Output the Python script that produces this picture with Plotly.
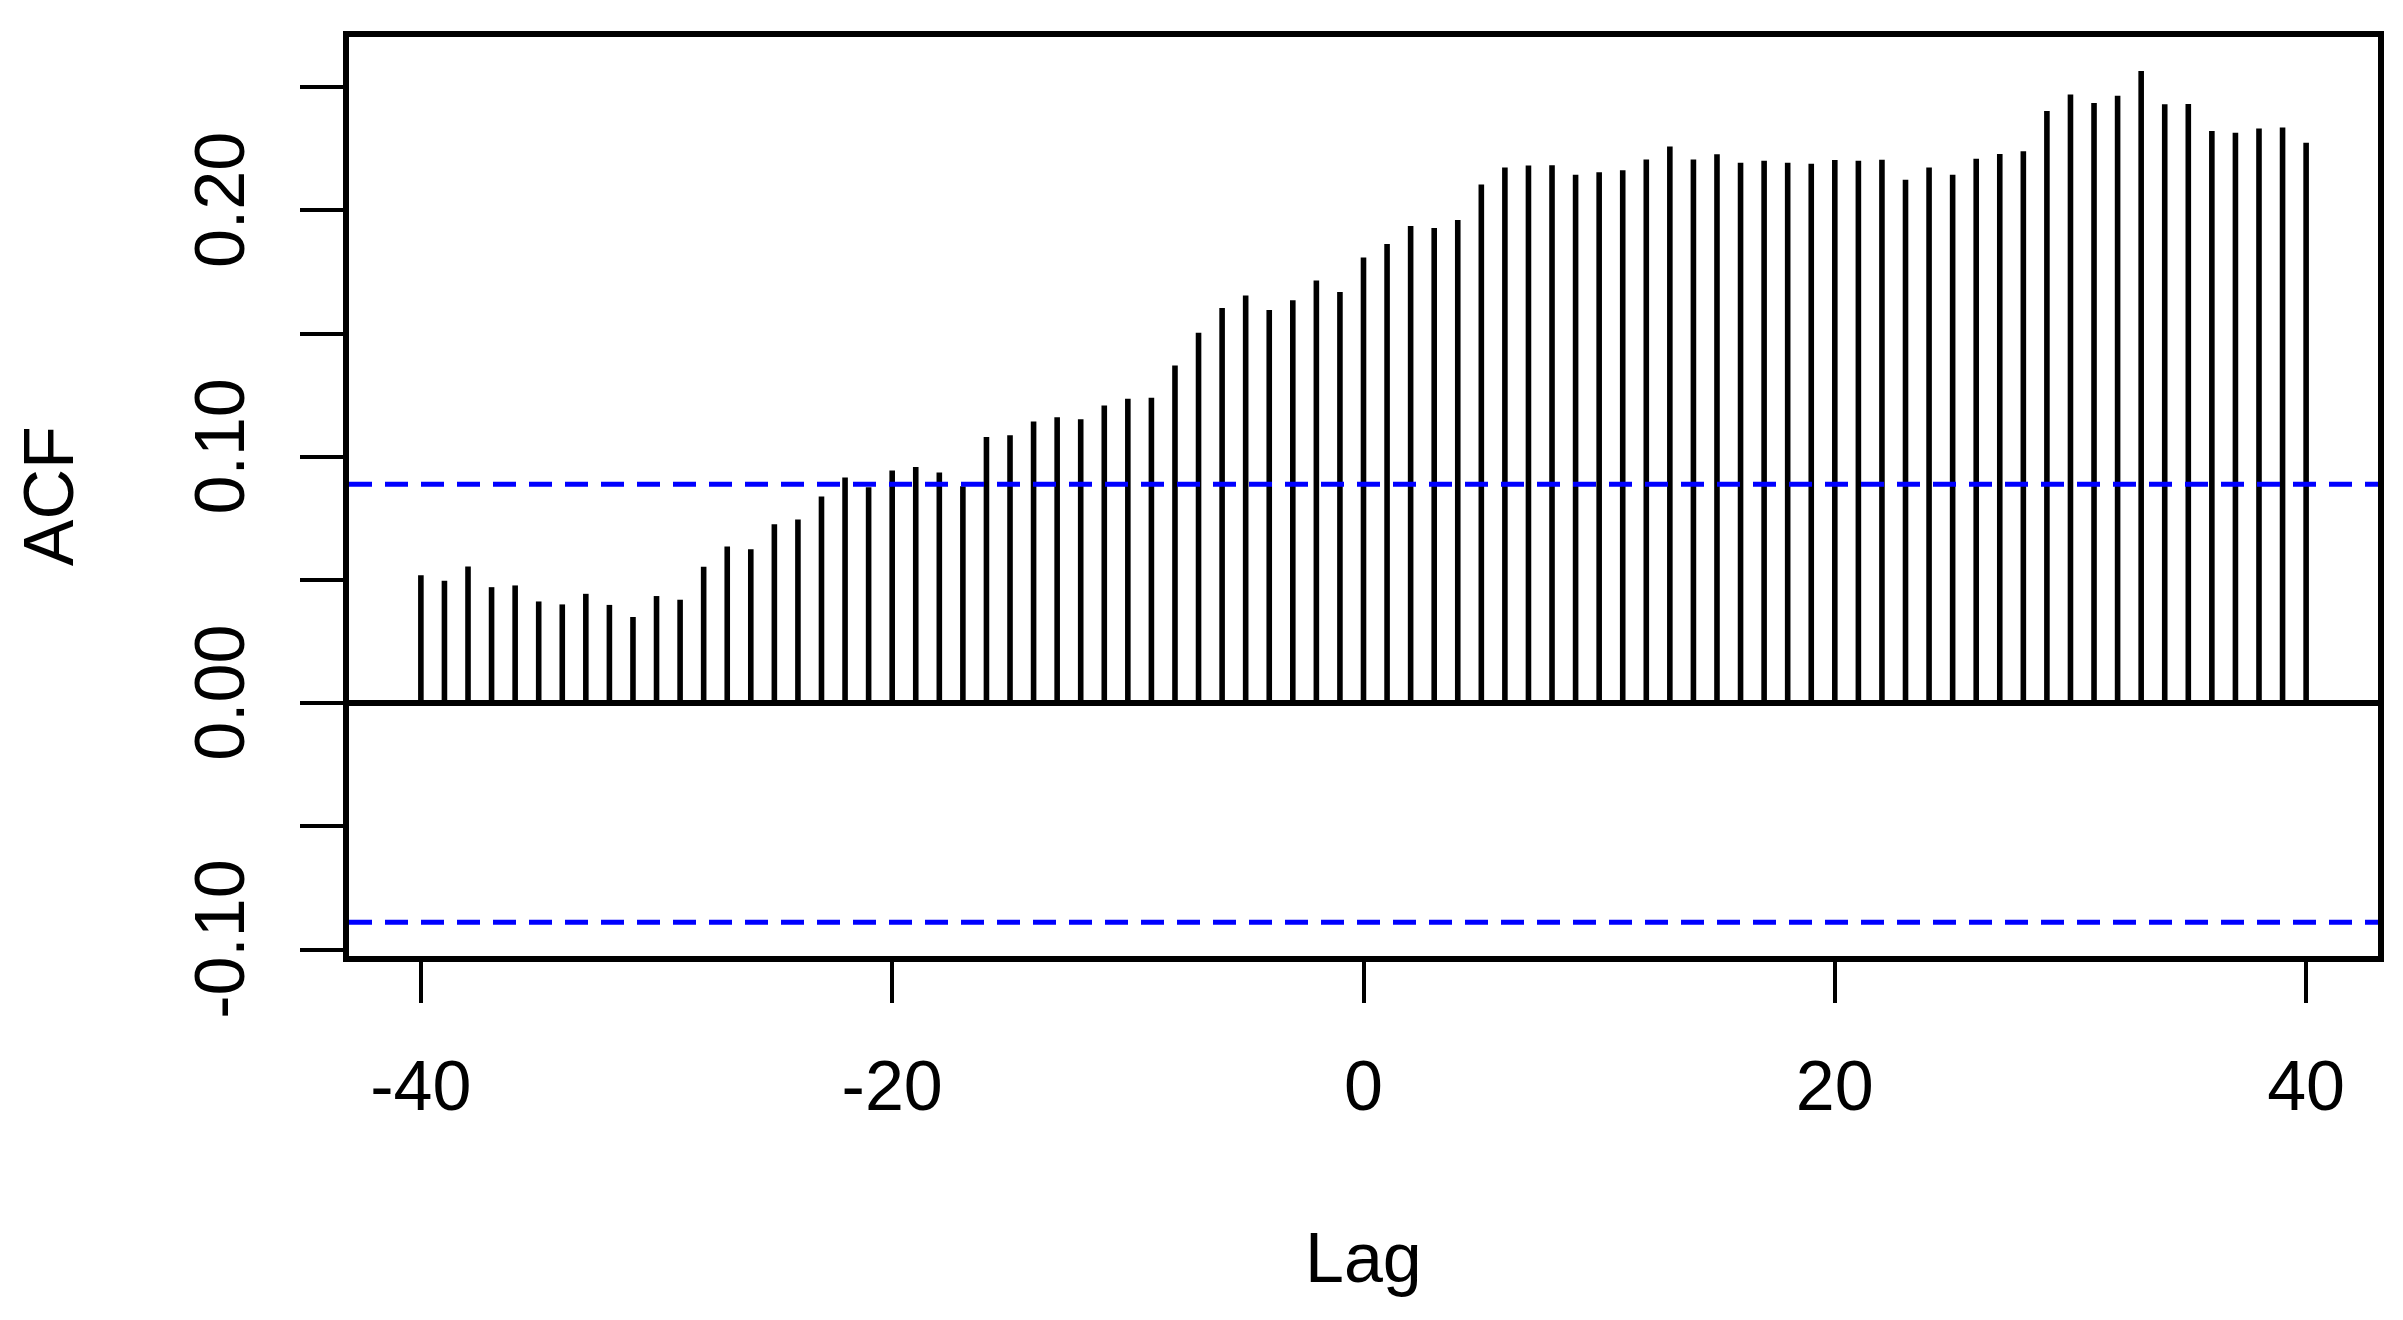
import plotly.graph_objects as go

lags = list(range(-40, 41))
acf_values = [
    0.0519, 0.0497, 0.0555, 0.0471, 0.0478, 0.0413, 0.0401, 0.0444, 0.0399, 0.0350,
    0.0435, 0.0420, 0.0554, 0.0636, 0.0625, 0.0726, 0.0746, 0.0839, 0.0916, 0.0877,
    0.0945, 0.0959, 0.0936, 0.0881, 0.1080, 0.1088, 0.1143, 0.1161, 0.1153, 0.1208,
    0.1236, 0.1240, 0.1371, 0.1504, 0.1604, 0.1655, 0.1596, 0.1636, 0.1716, 0.1669,
    0.1809,
    0.1864, 0.1937, 0.1929, 0.1961, 0.2105, 0.2174, 0.2182, 0.2183, 0.2145, 0.2155,
    0.2163, 0.2207, 0.2260, 0.2207, 0.2228, 0.2194, 0.2202, 0.2194, 0.2190, 0.2205,
    0.2202, 0.2206, 0.2125, 0.2174, 0.2145, 0.2210, 0.2229, 0.2240, 0.2404, 0.2471,
    0.2436, 0.2466, 0.2566, 0.2431, 0.2432, 0.2322, 0.2315, 0.2333, 0.2337, 0.2275,
]
conf_limit = 0.0889

x_ticks = [-40, -20, 0, 20, 40]
x_tick_labels = ["-40", "-20", "0", "20", "40"]
y_ticks = [-0.10, -0.05, 0.00, 0.05, 0.10, 0.15, 0.20, 0.25]
y_tick_labels = ["-0.10", "", "0.00", "", "0.10", "", "0.20", ""]

# vertical spikes (type = "h")
xs, ys = [], []
for lag, v in zip(lags, acf_values):
    xs += [lag, lag, None]
    ys += [0, v, None]

FONT = "Liberation Sans, Arial, Helvetica, sans-serif"

fig = go.Figure()
fig.add_trace(go.Scatter(x=xs, y=ys, mode="lines",
                         line=dict(color="black", width=5.6),
                         hoverinfo="skip", showlegend=False))

for yv in (conf_limit, -conf_limit):
    fig.add_shape(type="line", xref="paper", x0=0, x1=1, yref="y", y0=yv, y1=yv,
                  line=dict(color="#0000FF", width=5, dash="23px,13px"))

fig.update_layout(
    width=2395, height=1312,
    margin=dict(l=341, r=25, t=29, b=364),
    paper_bgcolor="white", plot_bgcolor="white",
    font=dict(family=FONT, size=70, color="black"),
    showlegend=False,
    xaxis=dict(range=[-43.05, 43.05], tickvals=x_ticks, ticktext=x_tick_labels,
               ticks="outside", ticklen=41, tickwidth=4, tickcolor="black",
               ticklabelstandoff=23,
               showline=True, linecolor="black", linewidth=6, mirror=True,
               showgrid=False, zeroline=False,
               tickfont=dict(family=FONT, size=70, color="black")),
    yaxis=dict(range=[-0.1026, 0.2704], tickvals=y_ticks, ticktext=y_tick_labels,
               ticks="outside", ticklen=43, tickwidth=4, tickcolor="black",
               ticklabelstandoff=28,
               showline=True, linecolor="black", linewidth=6, mirror=True,
               showgrid=False, zeroline=True, zerolinecolor="black", zerolinewidth=6,
               tickangle=-90,
               tickfont=dict(family=FONT, size=70, color="black")),
    annotations=[
        dict(text="Lag", xref="paper", yref="paper", x=0.5, y=-0.329,
             xanchor="center", yanchor="middle", showarrow=False,
             font=dict(family=FONT, size=70, color="black")),
        dict(text="ACF", xref="paper", yref="paper", x=-0.148, y=0.5,
             xanchor="center", yanchor="middle", textangle=-90, showarrow=False,
             font=dict(family=FONT, size=70, color="black")),
    ],
)

fig.write_html("out.html")
